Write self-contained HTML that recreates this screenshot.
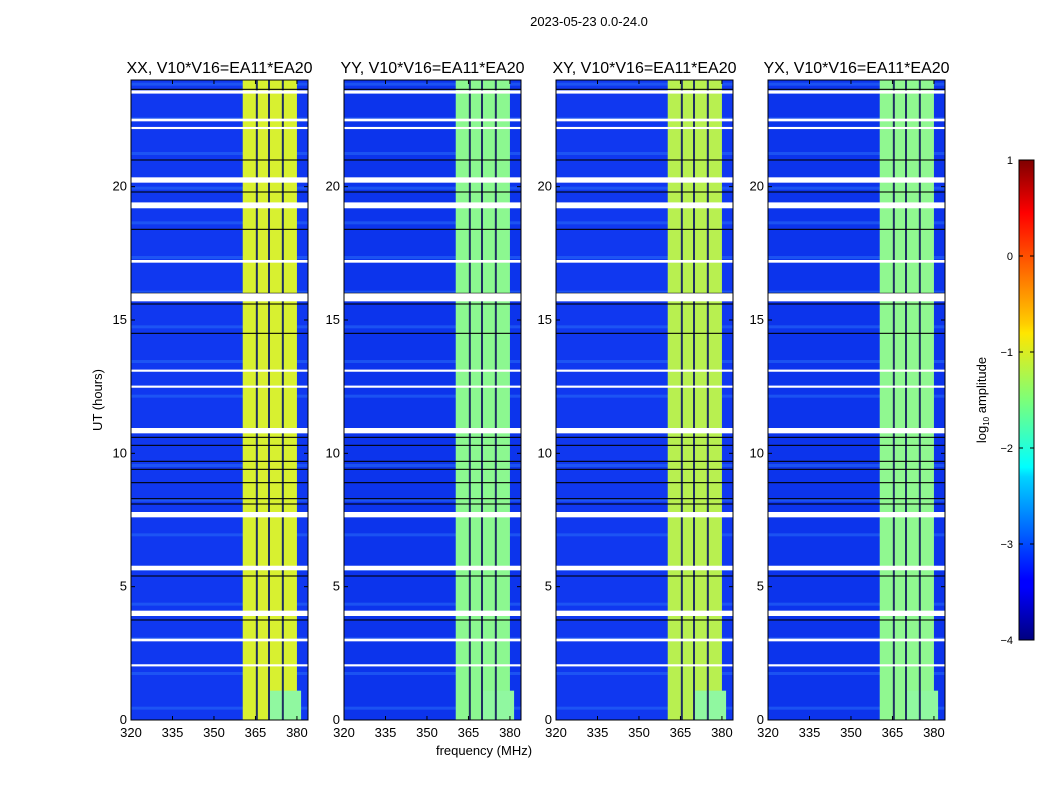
<!DOCTYPE html>
<html><head><meta charset="utf-8">
<style>
body{margin:0;background:#fff;}
svg text{font-family:"Liberation Sans",sans-serif;fill:#000;}
</style></head>
<body>
<svg id="chart" width="1050" height="800" xmlns="http://www.w3.org/2000/svg">
<defs>
<linearGradient id="jet" x1="0" y1="1" x2="0" y2="0">
<stop offset="0" stop-color="#00007f"/>
<stop offset="0.11" stop-color="#0000ff"/>
<stop offset="0.125" stop-color="#0000ff"/>
<stop offset="0.34" stop-color="#00d4ff"/>
<stop offset="0.36" stop-color="#00ffff"/>
<stop offset="0.5" stop-color="#7cff79"/>
<stop offset="0.64" stop-color="#ffe600"/>
<stop offset="0.66" stop-color="#ffcc00"/>
<stop offset="0.89" stop-color="#ff0000"/>
<stop offset="1" stop-color="#7f0000"/>
</linearGradient>
</defs>
<text x="589" y="26" font-size="13" text-anchor="middle">2023-05-23 0.0-24.0</text>
</svg>
<script>
const titles=["XX, V10*V16=EA11*EA20","YY, V10*V16=EA11*EA20","XY, V10*V16=EA11*EA20","YX, V10*V16=EA11*EA20"];
const panelLefts=[131,344,556,768];
const xTicks=[320,335,350,365,380];
const yTicks=[0,5,10,15,20];
const whiteGaps=[[23.55,0.12],[22.5,0.1],[22.2,0.08],[20.25,0.2],[19.3,0.22],[17.2,0.1],[15.85,0.3],[13.1,0.08],[12.5,0.08],[10.85,0.2],[7.7,0.2],[5.7,0.17],[4.0,0.2],[3.0,0.1],[2.05,0.08]];
const blackLines=[[23.65,0.04],[21.0,0.04],[19.8,0.04],[18.4,0.04],[16.0,0.04],[15.6,0.04],[14.5,0.04],[10.6,0.04],[10.3,0.04],[9.7,0.04],[9.4,0.04],[8.9,0.04],[8.3,0.04],[8.1,0.04],[5.4,0.04],[3.75,0.04]];
const bandStart=360.4, bandEnd=380.0;
const bandLines=[365.5,369.9,374.9];
const bandColors=["#d8f030","#8cf890","#b8f050","#90f890"];
const bgColors=["#1038f0","#0c34ec","#1038f0","#0c34ec"];
const cbTicks=[1,0,-1,-2,-3,-4];
const svg=document.getElementById('chart');
const NS="http://www.w3.org/2000/svg";
const PW=177,PT=80,PH=640,fmin=320,fmax=384,tmax=24;
function el(t,a,p){const e=document.createElementNS(NS,t);for(const k in a)e.setAttribute(k,a[k]);(p||svg).appendChild(e);return e;}
panelLefts.forEach((L,i)=>{
 const g=el('g',{});
 
 
 const xs=f=>L+(f-fmin)/(fmax-fmin)*PW;
 const ys=h=>PT+PH-(h/tmax)*PH;
 el('rect',{x:L,y:PT,width:PW,height:PH,fill:bgColors[i]},g);
 for(let h=0.5;h<24;h+=1.3){el('rect',{x:L,y:ys(h),width:PW,height:3,fill:'#2a70f8',opacity:0.5},g);}
 const band=el('rect',{x:xs(bandStart),y:PT,width:xs(bandEnd)-xs(bandStart),height:PH,fill:bandColors[i]},g);
 
 
 el('rect',{x:xs(369.9),y:ys(1.1),width:xs(381.5)-xs(369.9),height:ys(0)-ys(1.1),fill:'#90f8a0'},g);
 bandLines.forEach(f=>el('rect',{x:xs(f)-1,y:PT,width:2,height:PH,fill:'#203060'},g));
 blackLines.forEach(([h,d])=>el('rect',{x:L,y:ys(h+d/2),width:PW,height:Math.max(1,d/tmax*PH),fill:'#000'},g));
 whiteGaps.forEach(([h,d])=>{const r=el('rect',{x:L,y:ys(h+d/2),width:PW,height:Math.max(2,d/tmax*PH),fill:'#fff'},g);
  
  });
 el('rect',{x:L,y:PT,width:PW,height:PH,fill:'none',stroke:'#000','stroke-width':1},g);
 xTicks.forEach(t=>{const x=xs(t);
  el('line',{x1:x,x2:x,y1:PT+PH,y2:PT+PH-4,stroke:'#000'},g);
  el('line',{x1:x,x2:x,y1:PT,y2:PT+4,stroke:'#000'},g);
  const tx=el('text',{x:x,y:PT+PH+17,'font-size':13,'text-anchor':'middle'},g);tx.textContent=t;
  
  });
 yTicks.forEach(t=>{const y=ys(t);
  el('line',{x1:L,x2:L+4,y1:y,y2:y,stroke:'#000'},g);
  el('line',{x1:L+PW,x2:L+PW-4,y1:y,y2:y,stroke:'#000'},g);
  const tx=el('text',{x:L-4,y:y+4,'font-size':13,'text-anchor':'end'},g);tx.textContent=t;
  
  });
 const tt=el('text',{x:L+PW/2,y:73,'font-size':16,'text-anchor':'middle'},g);tt.textContent=titles[i];
 
 
});
const yl=el('text',{x:0,y:0,'font-size':13,'text-anchor':'middle',transform:'translate(102,400) rotate(-90)'});yl.textContent='UT (hours)';


const xl=el('text',{x:484,y:755,'font-size':13,'text-anchor':'middle'});xl.textContent='frequency (MHz)';


const cb=el('rect',{x:1019,y:160,width:15,height:480,fill:'url(#jet)',stroke:'#000'});


const cbs=v=>160+(1-v)/5*480;
cbTicks.forEach(v=>{const y=cbs(v);
 el('line',{x1:1019,x2:1023,y1:y,y2:y,stroke:'#000'});
 el('line',{x1:1034,x2:1030,y1:y,y2:y,stroke:'#000'});
 const t=el('text',{x:1013,y:y+4,'font-size':11,'text-anchor':'end'});t.textContent=(v<0?'\u2212'+(-v):v);
 
 });
const cl=el('text',{x:0,y:0,'font-size':13,'text-anchor':'middle',transform:'translate(986,400) rotate(-90)'});
cl.innerHTML='log<tspan font-size="8" dy="3">10</tspan><tspan dy="-3"> amplitude</tspan>';


</script>
</body></html>
